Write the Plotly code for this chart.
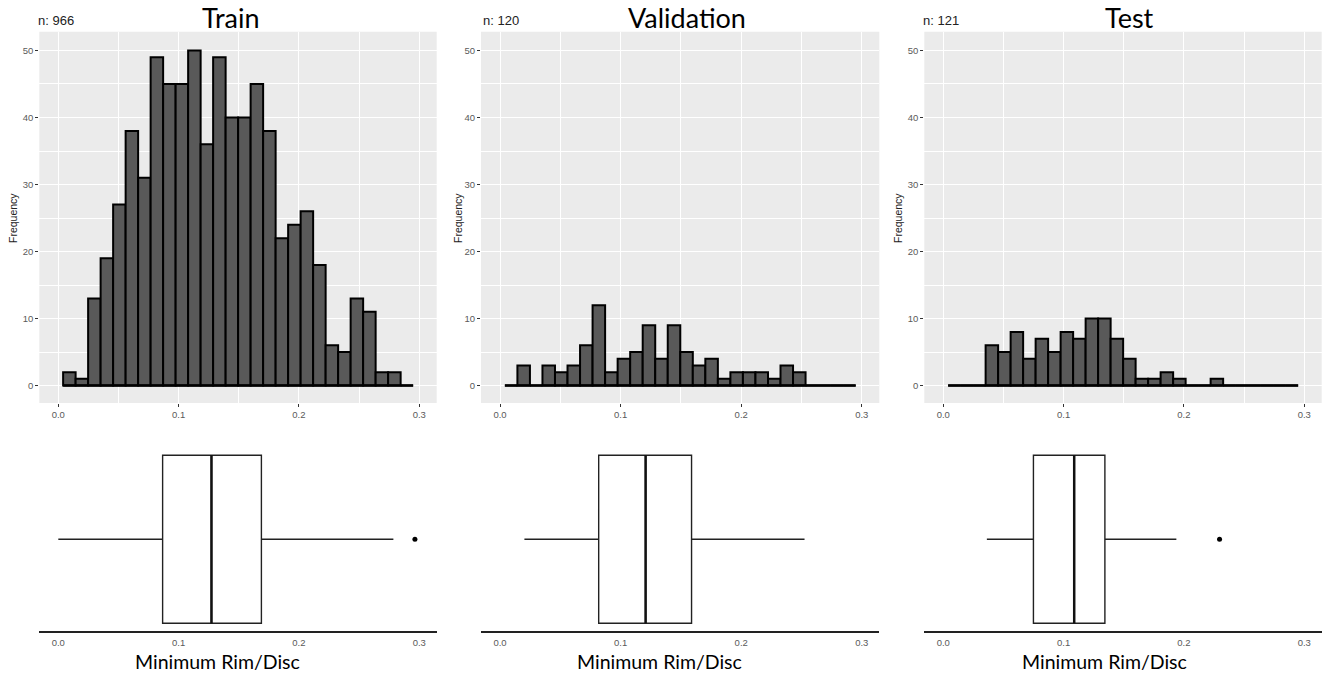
import plotly.graph_objects as go

# ---------------- data ----------------
PANELS = ["Train", "Validation", "Test"]
N_LABELS = ["n: 966", "n: 120", "n: 121"]

BIN_START = 0.0040
BIN_WIDTH = 0.01039
N_BINS = 28

train_counts = [2, 1, 13, 19, 27, 38, 31, 49, 45, 45, 50, 36, 49, 40, 40, 45, 38, 22,
                24, 26, 18, 6, 5, 13, 11, 2, 2, 0]
val_counts = [0, 3, 0, 3, 2, 3, 6, 12, 2, 4, 5, 9, 4, 9, 5, 3, 4, 1, 2, 2, 2, 1, 3, 2,
              0, 0, 0, 0]
test_counts = [0, 0, 0, 6, 5, 8, 4, 7, 5, 8, 7, 10, 10, 7, 4, 1, 1, 2, 1, 0, 0, 1, 0, 0,
               0, 0, 0, 0]
COUNTS = [train_counts, val_counts, test_counts]

# boxplot statistics: lower whisker, Q1, median, Q3, upper whisker, outliers
box_low = [0.000, 0.0202, 0.0362]
box_q1 = [0.0867, 0.0818, 0.0749]
box_med = [0.1273, 0.1207, 0.1088]
box_q3 = [0.1688, 0.1588, 0.1343]
box_high = [0.2785, 0.2525, 0.1937]
box_outliers = [[0.2964], [], [0.2296]]

X_TICKS = [0.0, 0.1, 0.2, 0.3]
X_TICKTEXT = ["0.0", "0.1", "0.2", "0.3"]
Y_TICKS = [0, 10, 20, 30, 40, 50]

X_AXIS_TITLE = "Minimum Rim/Disc"
Y_AXIS_TITLE = "Frequency"

# ---------------- layout geometry ----------------
W, H = 1333, 675
col_px = [(39.3, 436.7), (481.0, 879.3), (924.3, 1321.7)]
title_cx = [231, 687, 1129]
xtitle_cx = [217, 659, 1104]
freq_x = [13, 458, 898]
nlab_x = [37, 482, 922]

hist_dom = [1 - 403 / H, 1 - 31.7 / H]
box_dom = [1 - 631 / H, 1 - 431 / H]
XR = [-0.0158, 0.3145]
YR = [-2.6, 52.8]
BOX_W = 1.0
BOX_YR = [-0.546, 0.644]

TICK_FONT = dict(family="Liberation Sans, Arial, sans-serif", size=9.5, color="#5a5a5a")

fig = go.Figure()
layout = dict(
    width=W, height=H, margin=dict(l=0, r=0, t=0, b=0),
    paper_bgcolor="white", plot_bgcolor="white", showlegend=False,
    shapes=[], annotations=[],
)

edges = [BIN_START + BIN_WIDTH * i for i in range(N_BINS + 1)]
centers = [(edges[i] + edges[i + 1]) / 2 for i in range(N_BINS)]

for i in range(3):
    hx = f"x{i + 1}" if i else "x"
    hy = f"y{i + 1}" if i else "y"
    bx = f"x{i + 4}"
    by = f"y{i + 4}"
    dom = [col_px[i][0] / W, col_px[i][1] / W]

    # histogram bars
    fig.add_trace(go.Bar(
        x=centers, y=COUNTS[i], width=BIN_WIDTH,
        marker=dict(color="#595959", line=dict(color="black", width=2.0)),
        xaxis=hx, yaxis=hy, hoverinfo="x+y",
    ))
    # baseline across all bins
    fig.add_trace(go.Scatter(
        x=[edges[0], edges[-1]], y=[0, 0], mode="lines",
        line=dict(color="black", width=2.4), xaxis=hx, yaxis=hy, hoverinfo="skip",
    ))

    # boxplot
    fig.add_trace(go.Box(
        q1=[box_q1[i]], median=[box_med[i]], q3=[box_q3[i]],
        lowerfence=[box_low[i]], upperfence=[box_high[i]],
        y=[0], orientation="h", width=BOX_W, whiskerwidth=0,
        fillcolor="white", line=dict(color="#222222", width=1.4),
        boxpoints=False, xaxis=bx, yaxis=by,
    ))
    # thicker median line (ggplot fatten)
    fig.add_trace(go.Scatter(
        x=[box_med[i], box_med[i]], y=[-BOX_W / 2, BOX_W / 2], mode="lines",
        line=dict(color="#111111", width=2.5), xaxis=bx, yaxis=by, hoverinfo="skip",
    ))
    if box_outliers[i]:
        fig.add_trace(go.Scatter(
            x=box_outliers[i], y=[0] * len(box_outliers[i]), mode="markers",
            marker=dict(color="black", size=5), xaxis=bx, yaxis=by,
        ))

    key = i + 1
    xk = "xaxis" if key == 1 else f"xaxis{key}"
    yk = "yaxis" if key == 1 else f"yaxis{key}"
    layout[xk] = dict(
        domain=dom, anchor=hy, range=XR, tickvals=X_TICKS, ticktext=X_TICKTEXT,
        showgrid=True, gridcolor="white", gridwidth=1.2, zeroline=False,
        ticks="outside", ticklen=3, tickwidth=1, tickcolor="#333333",
        tickfont=TICK_FONT, showline=False,
        minor=dict(dtick=0.05, tick0=0.05, showgrid=True, gridcolor="white", gridwidth=0.6, ticks=""),
    )
    layout[yk] = dict(
        domain=hist_dom, anchor=hx, range=YR, tickvals=Y_TICKS,
        showgrid=True, gridcolor="white", gridwidth=1.2, zeroline=False,
        ticks="outside", ticklen=3, tickwidth=1, tickcolor="#333333",
        tickfont=TICK_FONT, showline=False,
        minor=dict(dtick=5, tick0=5, showgrid=True, gridcolor="white", gridwidth=0.6, ticks=""),
    )
    layout[f"xaxis{i + 4}"] = dict(
        domain=dom, anchor=by, range=XR, tickvals=X_TICKS, ticktext=X_TICKTEXT,
        showgrid=False, zeroline=False, showline=True, linecolor="#222222", linewidth=1.6,
        ticks="outside", ticklen=2, tickcolor="rgba(0,0,0,0)", tickfont=TICK_FONT,
    )
    layout[f"yaxis{i + 4}"] = dict(
        domain=box_dom, anchor=bx, range=BOX_YR, visible=False, showgrid=False,
    )

    # grey panel background
    layout["shapes"].append(dict(
        type="rect", xref=f"{hx} domain", yref=f"{hy} domain",
        x0=0, x1=1, y0=0, y1=1, fillcolor="#EBEBEB", line=dict(width=0), layer="below",
    ))

    # texts
    layout["annotations"].append(dict(
        text=PANELS[i], x=title_cx[i] / W, y=1 - 17 / H, xref="paper", yref="paper",
        xanchor="center", yanchor="middle", showarrow=False, borderpad=0,
        font=dict(family="Lato, Open Sans, sans-serif", size=27, color="black"),
    ))
    layout["annotations"].append(dict(
        text=N_LABELS[i], x=nlab_x[i] / W, y=1 - 20 / H, xref="paper", yref="paper",
        xanchor="left", yanchor="middle", showarrow=False, borderpad=0,
        font=dict(family="Liberation Sans, Arial, sans-serif", size=13, color="#222222"),
    ))
    layout["annotations"].append(dict(
        text=Y_AXIS_TITLE, x=freq_x[i] / W, y=1 - 218 / H, xref="paper", yref="paper",
        xanchor="center", yanchor="middle", showarrow=False, textangle=-90, borderpad=0,
        font=dict(family="Liberation Sans, Arial, sans-serif", size=10.5, color="#222222"),
    ))
    layout["annotations"].append(dict(
        text=X_AXIS_TITLE, x=xtitle_cx[i] / W, y=1 - 661 / H, xref="paper", yref="paper",
        xanchor="center", yanchor="middle", showarrow=False, borderpad=0,
        font=dict(family="Lato, Open Sans, sans-serif", size=19.5, color="black"),
    ))

fig.update_layout(**layout)
fig.write_html(
    "out.html",
    config={"displayModeBar": False},
    post_script="document.body.style.margin='0';document.body.style.overflow='hidden';",
)
